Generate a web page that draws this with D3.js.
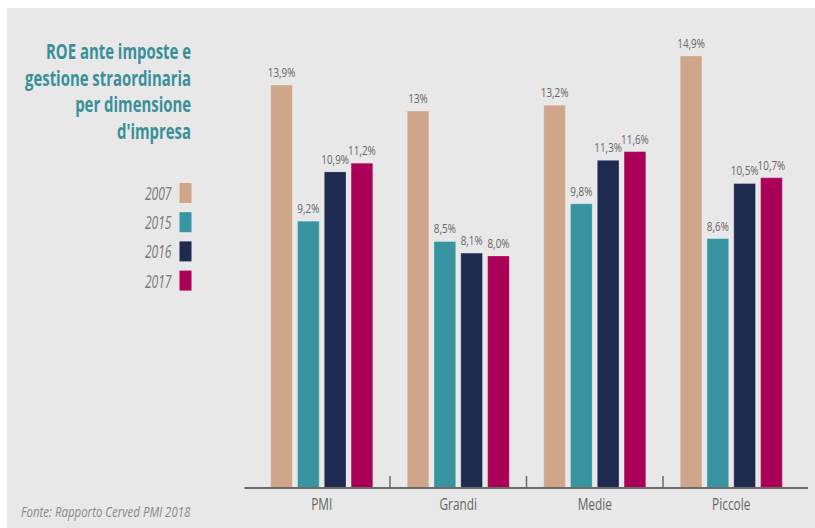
<!DOCTYPE html>
<html>
<head>
<meta charset="utf-8">
<script src="https://cdn.jsdelivr.net/npm/d3@7"></script>
<style>
  html, body { margin: 0; padding: 0; background: #ffffff; }
  svg { display: block; }
  text { font-family: "Open Sans", sans-serif; }
</style>
</head>
<body>
<svg id="chart" width="815" height="528"></svg>
<script>
// ROE before taxes and extraordinary items, by company size
const categories = ["PMI", "Grandi", "Medie", "Piccole"];
const years = ["2007", "2015", "2016", "2017"];
const values2007 = [13.9, 13.0, 13.2, 14.9];
const values2015 = [9.2, 8.5, 9.8, 8.6];
const values2016 = [10.9, 8.1, 11.3, 10.5];
const values2017 = [11.2, 8.0, 11.6, 10.7];
const labels2007 = ["13,9%", "13%", "13,2%", "14,9%"];
const labels2015 = ["9,2%", "8,5%", "9,8%", "8,6%"];
const labels2016 = ["10,9%", "8,1%", "11,3%", "10,5%"];
const labels2017 = ["11,2%", "8,0%", "11,6%", "10,7%"];
const yDomain = [0, 15];
const titleLines = ["ROE ante imposte e", "gestione straordinaria", "per dimensione", "d'impresa"];
const sourceText = "Fonte: Rapporto Cerved PMI 2018";

const seriesValues = [values2007, values2015, values2016, values2017];
const seriesLabels = [labels2007, labels2015, labels2016, labels2017];
const colors = ["#d0a68a", "#3794a0", "#1f2a50", "#ab0058"];

const svg = d3.select("#chart");

// panel background
svg.append("rect").attr("x", 7).attr("y", 8).attr("width", 808).attr("height", 520).attr("fill", "#e8e8e8");

// horizontally condensed text helper
function condense(sel, anchorX, factor) {
  sel.attr("transform", `translate(${anchorX},0) scale(${factor},1) translate(${-anchorX},0)`);
}

const baseY = 488;
const x0 = d3.scaleBand().domain(categories).range([253.5, 799.5]).paddingInner(0).paddingOuter(0);
const x1 = d3.scaleBand().domain(years).range([17.2, 119.3]).paddingInner(0.19).paddingOuter(0);
const y = d3.scaleLinear().domain(yDomain).range([baseY, baseY - 15 * 29]);

// bars and value labels
const groups = svg.append("g").selectAll("g")
  .data(categories)
  .join("g")
  .attr("transform", d => `translate(${x0(d)},0)`);

groups.each(function(cat, ci) {
  const g = d3.select(this);
  years.forEach((yr, si) => {
    const v = seriesValues[si][ci];
    g.append("rect")
      .attr("x", x1(yr))
      .attr("y", y(v))
      .attr("width", x1.bandwidth())
      .attr("height", y(0) - y(v))
      .attr("fill", colors[si])
      .attr("stroke", "rgba(255,255,255,0.25)")
      .attr("stroke-width", 1);
    const cx = x1(yr) + x1.bandwidth() / 2;
    const t = g.append("text")
      .attr("x", cx)
      .attr("y", y(v) - 8)
      .attr("text-anchor", "middle")
      .attr("font-size", 13)
      .attr("fill", "#666")
      .text(seriesLabels[si][ci]);
    condense(t, cx, 0.76);
  });
});

// x axis
const axisG = svg.append("g").attr("transform", `translate(0,${baseY})`)
  .call(d3.axisBottom(x0).tickSize(0).tickPadding(10));
axisG.select(".domain").remove();
axisG.selectAll(".tick text")
  .attr("font-size", 16.5)
  .attr("fill", "#666")
  .attr("font-family", "Open Sans, sans-serif")
  .attr("dy", "0.71em")
  .each(function() { condense(d3.select(this), 0, 0.72); });

svg.append("line")
  .attr("x1", x0.range()[0] - 9).attr("x2", x0.range()[1] + 8.5)
  .attr("y1", baseY).attr("y2", baseY)
  .attr("stroke", "#6a6a6a").attr("stroke-width", 2);

svg.append("g").selectAll("line")
  .data(categories.slice(1))
  .join("line")
  .attr("x1", d => x0(d)).attr("x2", d => x0(d))
  .attr("y1", baseY).attr("y2", baseY - 12)
  .attr("stroke", "#6a6a6a").attr("stroke-width", 1.5);

// title, one text per line, condensed to a common width
const titleX = 191;
const titleWidth = 166;
const titleTexts = svg.append("g").selectAll("text")
  .data(titleLines)
  .join("text")
  .attr("x", titleX)
  .attr("y", (d, i) => 59.5 + i * 26.4)
  .attr("text-anchor", "end")
  .attr("font-family", "Roboto, sans-serif")
  .attr("font-size", 21.6)
  .attr("font-weight", 700)
  .attr("fill", "#3a9098")
  .text(d => d);
const widest = d3.max(titleTexts.nodes(), n => n.getComputedTextLength());
titleTexts.each(function() { condense(d3.select(this), titleX, titleWidth / widest); });

// legend
const legend = svg.append("g");
years.forEach((yr, i) => {
  const top = 183 + i * 29.2;
  legend.append("rect")
    .attr("x", 179.5).attr("y", top)
    .attr("width", 12).attr("height", 20)
    .attr("fill", colors[i]);
  const t = legend.append("text")
    .attr("x", 171.5).attr("y", top + 17)
    .attr("text-anchor", "end")
    .attr("font-size", 18)
    .attr("font-style", "italic")
    .attr("fill", "#777")
    .text(yr);
  condense(t, 171.5, 0.67);
});

// source note
const src = svg.append("text")
  .attr("x", 21).attr("y", 517)
  .attr("font-size", 15)
  .attr("font-style", "italic")
  .attr("fill", "#888")
  .text(sourceText);
condense(src, 21, 0.765);
</script>
</body>
</html>
